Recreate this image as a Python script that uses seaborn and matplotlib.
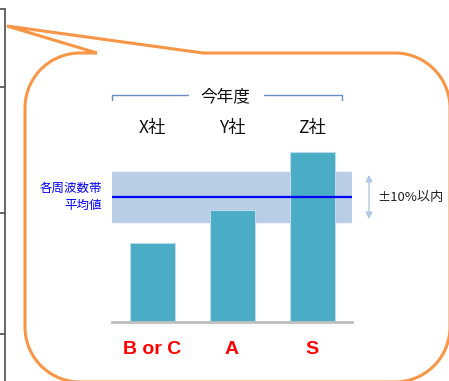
import numpy as np
import pandas as pd
import matplotlib
matplotlib.use('Agg')
import matplotlib.pyplot as plt
from matplotlib.path import Path
from matplotlib.patches import PathPatch
import seaborn as sns

sns.set_style('white')
plt.rcParams['font.family'] = ['Noto Sans CJK JP', 'DejaVu Sans']

# data
companies = ['X社', 'Y社', 'Z社']
scores = [63, 90, 136]
grades = ['B or C', 'A', 'S']
avg_value = 100
band_low, band_high = 80, 120
header = '今年度'
band_note = '±10%以内'
avg_label = '各周波数帯\n平均値'

W, H = 449, 381
fig = plt.figure(figsize=(W / 100, H / 100), dpi=100)
fig.patch.set_facecolor('white')

# overlay in pixel coords for the decorations
ov = fig.add_axes([0, 0, 1, 1])
ov.set_xlim(0, W)
ov.set_ylim(H, 0)
ov.axis('off')

# left axis remains
ov.plot([5, 5], [9, H], color='#595959', lw=1.3)
for ty in [9, 87, 213, 334]:
    ov.plot([0, 5], [ty, ty], color='#595959', lw=1.3)

# callout outline
r = 55
def arc(cx, cy, a0, a1):
    t = np.radians(np.linspace(a0, a1, 30))
    return list(zip(cx + r * np.cos(t), cy + r * np.sin(t)))

pts = [(97, 53), (7, 26), (203, 53), (395, 53)]
pts += arc(395, 108, -90, 0)
pts += [(450, 327)]
pts += arc(395, 327, 0, 90)
pts += [(80, 382)]
pts += arc(80, 327, 90, 180)
pts += [(25, 108)]
pts += arc(80, 108, 180, 270)
pts += [(97, 53)]
ov.add_patch(PathPatch(Path(pts), facecolor='white', edgecolor='#f79646', lw=2.2, joinstyle='miter'))

# header bracket
ov.plot([112, 112, 188], [100, 95, 95], color='#6a8cc6', lw=1)
ov.plot([264, 342, 342], [95, 95, 100], color='#6a8cc6', lw=1)
ov.text(225, 97, header, ha='center', va='center', fontsize=12, color='#111111')

# bar chart
ax = fig.add_axes([112 / W, (H - 322) / H, 240 / W, 175 / H])
ax.patch.set_alpha(0)
df = pd.DataFrame({'company': companies, 'score': scores})
ax.axhspan(band_low, band_high, color='#b9cde5', zorder=0)
sns.barplot(data=df, x='company', y='score', order=companies, color='#4bacc6',
            saturation=1, width=0.5625, edgecolor='#b7dde8', linewidth=0.8, ax=ax, zorder=2)
ax.axhline(avg_value, color='#0000ff', lw=1.6, zorder=3)
ax.set_xlim(-0.5, 2.5)
ax.set_ylim(0, 140)
ax.set_xticks([])
ax.set_yticks([])
ax.set_xlabel('')
ax.set_ylabel('')
for s in ['top', 'left', 'right']:
    ax.spines[s].set_visible(False)
ax.spines['bottom'].set_color('#bfbfbf')
ax.spines['bottom'].set_linewidth(2)

xt = ax.get_xaxis_transform()
for i, (c, g) in enumerate(zip(companies, grades)):
    ax.text(i, 1.109, c, transform=xt, ha='center', va='center', fontsize=12.5, color='#111111')
    ax.text(i, -0.16, g, transform=xt, ha='center', va='center', fontsize=14,
            fontweight='bold', color='#ff0000', family=['Liberation Sans', 'DejaVu Sans'])

ax.text(-0.625, avg_value, avg_label, ha='right', va='center', fontsize=9,
        color='#0000ff', linespacing=1.35, multialignment='right', clip_on=False)

ax.annotate('', xy=(2.7125, band_high), xytext=(2.7125, band_low),
            arrowprops=dict(arrowstyle='<|-|>', color='#b4c7e7', lw=1, mutation_scale=10),
            annotation_clip=False)
ax.text(2.8125, avg_value, band_note, ha='left', va='center', fontsize=9.5,
        color='#222222', clip_on=False)

fig.savefig('out.png', dpi=100)
